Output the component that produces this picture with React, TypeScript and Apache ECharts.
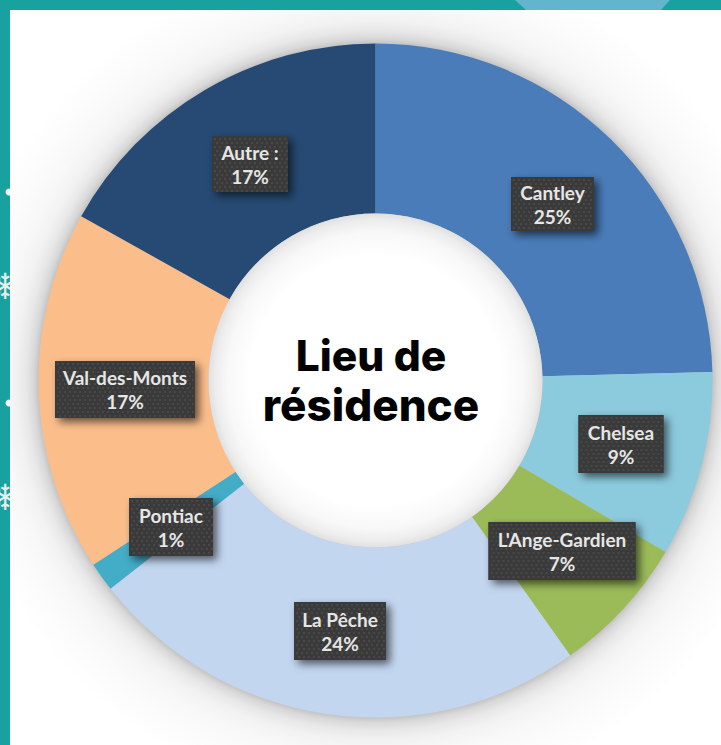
import React, { useEffect, useRef } from "react";
import * as echarts from "echarts";

const categories = ["Cantley", "Chelsea", "L'Ange-Gardien", "La Pêche", "Pontiac", "Val-des-Monts", "Autre :"];
const sliceShares = [24.6, 8.9, 6.7, 24.2, 1.4, 17.3, 16.9];
const printedPercents = ["25%", "9%", "7%", "24%", "1%", "17%", "17%"];
const sliceColors = ["#4A7CB9", "#8CCADD", "#9BBB59", "#C3D6F0", "#43ACC7", "#FBBE8B", "#264A73"];
const boxLayout = [
  { cx: 552.5, cy: 204, w: 83, h: 54, lift: 3 },
  { cx: 621, cy: 444, w: 85, h: 58, lift: 0 },
  { cx: 562, cy: 551, w: 147, h: 58, lift: 0 },
  { cx: 340, cy: 631, w: 92, h: 58, lift: 0 },
  { cx: 171, cy: 527, w: 84, h: 58, lift: 0 },
  { cx: 125, cy: 389.5, w: 140, h: 57, lift: 1 },
  { cx: 250, cy: 164, w: 76, h: 56, lift: 0 },
];
const titleLines = ["Lieu de", "résidence"];

const CX = 375.5;
const CY = 380.5;
const R_OUT = 337;
const R_IN = 167;

function dottedBox(w: number, h: number): HTMLCanvasElement {
  const c = document.createElement("canvas");
  c.width = w;
  c.height = h;
  const g = c.getContext("2d")!;
  g.fillStyle = "#3A3A3A";
  g.fillRect(0, 0, w, h);
  g.fillStyle = "rgba(255,255,255,0.10)";
  for (let y = 3, row = 0; y < h; y += 4, row++) {
    for (let x = row % 2 ? 5 : 3; x < w; x += 5) {
      g.beginPath();
      g.arc(x, y, 1, 0, Math.PI * 2);
      g.fill();
    }
  }
  return c;
}

const radial = (r: number, stops: [number, string][], global: boolean) => ({
  type: "radial",
  x: global ? CX : 0.5,
  y: global ? CY : 0.5,
  r: global ? r : 0.5,
  global,
  colorStops: stops.map(([o, color]) => ({ offset: o / r, color })),
});

export default function App() {
  const ref = useRef<HTMLDivElement>(null);
  useEffect(() => {
    const chart = echarts.init(ref.current!, undefined, { renderer: "svg" });
    const ringData = categories.map((name, i) => ({
      name,
      value: sliceShares[i],
      itemStyle: { color: sliceColors[i] },
    }));
    const labelData = categories.map((name, i) => {
      const b = boxLayout[i];
      const pad = (b.h - 48) / 2;
      return {
        name,
        value: sliceShares[i],
        itemStyle: { color: "transparent" },
        label: {
          formatter: `${name}\n${printedPercents[i]}`,
          width: b.w,
          padding: [pad - b.lift, 0, pad + b.lift, 0],
          backgroundColor: { image: dottedBox(b.w, b.h) },
        },
      };
    });
    const boxShadows = boxLayout.map((b) => ({
      type: "rect",
      z: 3,
      shape: { x: b.cx - b.w / 2, y: b.cy - b.h / 2, width: b.w, height: b.h },
      style: {
        fill: "#3A3A3A",
        shadowColor: "rgba(0,0,0,0.6)",
        shadowBlur: 9,
        shadowOffsetX: 4,
        shadowOffsetY: 4,
      },
    }));
    chart.setOption({
      animation: false,
      graphic: [
        { type: "polygon", z: 0, shape: { points: [[515, 0], [670, 0], [661, 10], [526, 10]] }, style: { fill: "#62B5CC" } },
        { type: "circle", z: 0, shape: { cx: 9, cy: 192, r: 3.5 }, style: { fill: "#F2F5F5" } },
        { type: "circle", z: 0, shape: { cx: 9, cy: 403, r: 3.5 }, style: { fill: "#F2F5F5" } },
        { type: "text", z: 0, x: 5, y: 286, style: { text: "❄", fill: "#E6EEEE", font: '36px "DejaVu Sans"', align: "center", verticalAlign: "middle" } },
        { type: "text", z: 0, x: 5, y: 497, style: { text: "❄", fill: "#E6EEEE", font: '36px "DejaVu Sans"', align: "center", verticalAlign: "middle" } },
        {
          type: "rect",
          z: 1,
          shape: { x: 10, y: 10, width: 711, height: 735 },
          style: {
            fill: radial(
              425,
              [
                [330, "#C4C4C4"],
                [337, "#C4C4C4"],
                [342, "#D8D8D8"],
                [350, "#E8E8E8"],
                [360, "#F2F2F2"],
                [375, "#F8F8F8"],
                [400, "#FCFCFC"],
                [425, "#FFFFFF"],
              ],
              true
            ),
          },
        },
        {
          type: "circle",
          z: 3,
          shape: { cx: CX, cy: CY, r: R_IN },
          style: {
            fill: radial(
              R_IN,
              [
                [0, "#FFFFFF"],
                [125, "#FFFFFF"],
                [148, "#F8F8F8"],
                [160, "#EDEDED"],
                [167, "#E0E0E0"],
              ],
              false
            ),
          },
        },
        ...boxShadows,
        { type: "text", z: 5, x: 371, y: 355, style: { text: titleLines[0], fill: "#000", font: "800 42.5px Inter", align: "center", verticalAlign: "middle" } },
        { type: "text", z: 5, x: 371, y: 405, style: { text: titleLines[1], fill: "#000", font: "800 44px Inter", align: "center", verticalAlign: "middle" } },
      ],
      series: [
        {
          type: "pie",
          z: 2,
          center: [CX, CY],
          radius: [R_IN, R_OUT],
          startAngle: 90,
          clockwise: true,
          silent: true,
          data: ringData,
          label: { show: false },
          labelLine: { show: false },
        },
        {
          type: "pie",
          z: 4,
          center: [CX, CY],
          radius: [R_IN, R_OUT],
          startAngle: 90,
          clockwise: true,
          silent: true,
          avoidLabelOverlap: false,
          data: labelData,
          label: {
            show: true,
            position: "inside",
            color: "#E6E6E6",
            fontFamily: "Lato",
            fontWeight: 700,
            fontSize: 19,
            lineHeight: 24,
            align: "center",
            verticalAlign: "middle",
          },
          labelLine: { show: false },
          labelLayout: (p: any) => {
            const b = boxLayout[p.dataIndex];
            return { x: b.cx, y: b.cy, align: "center", verticalAlign: "middle" };
          },
        },
      ],
    });
    return () => chart.dispose();
  }, []);
  return (
    <div style={{ position: "fixed", left: 0, top: 0, width: 721, height: 745, background: "#19A19F", overflow: "hidden" }}>
      <div ref={ref} style={{ width: 721, height: 745 }} />
    </div>
  );
}
